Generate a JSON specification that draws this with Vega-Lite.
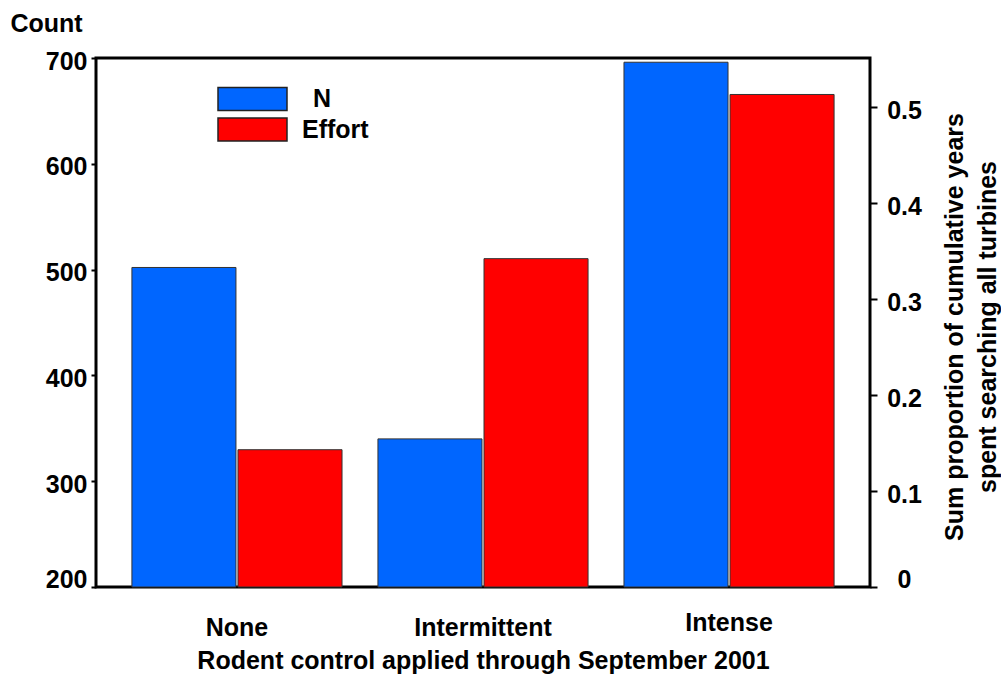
{
  "$schema": "https://vega.github.io/schema/vega-lite/v6.json",
  "width": 774,
  "height": 529,
  "autosize": {"type": "none"},
  "padding": {"left": 96, "top": 58, "right": 131, "bottom": 98},
  "background": "white",
  "config": {
    "view": {"stroke": "black", "strokeWidth": 3},
    "font": "Liberation Sans",
    "axis": {
      "labelFont": "Liberation Sans",
      "labelFontWeight": "bold",
      "labelFontSize": 25,
      "labelColor": "black",
      "titleFont": "Liberation Sans",
      "titleFontWeight": "bold",
      "titleFontSize": 25,
      "titleColor": "black",
      "grid": false,
      "domain": false,
      "tickColor": "black"
    }
  },
  "data": {
    "values": [
      {"control": "None", "series": "N", "value": 502},
      {"control": "None", "series": "Effort", "value": 0.143},
      {"control": "Intermittent", "series": "N", "value": 340},
      {"control": "Intermittent", "series": "Effort", "value": 0.342},
      {"control": "Intense", "series": "N", "value": 696},
      {"control": "Intense", "series": "Effort", "value": 0.513}
    ]
  },
  "encoding": {
    "x": {
      "field": "control",
      "type": "nominal",
      "sort": ["None", "Intermittent", "Intense"],
      "scale": {"paddingInner": 0.146, "paddingOuter": 0.146},
      "axis": {
        "title": "Rodent control applied through September 2001",
        "ticks": false,
        "tickSize": 0,
        "labelAngle": 0,
        "labelBaseline": "top",
        "labelPadding": {"condition": {"test": "datum.value == 'Intense'", "value": 23}, "value": 28},
        "titleY": 81,
        "titleBaseline": "alphabetic"
      }
    },
    "xOffset": {
      "field": "series",
      "type": "nominal",
      "scale": {"domain": ["N", "Effort"], "paddingInner": 0.019, "paddingOuter": 0}
    },
    "color": {
      "field": "series",
      "type": "nominal",
      "scale": {"domain": ["N", "Effort"], "range": ["#0066ff", "#ff0000"]},
      "legend": {
        "orient": "none",
        "legendX": 121,
        "legendY": 27,
        "title": null,
        "padding": 0,
        "symbolType": "M-1,-0.3333L1,-0.3333L1,0.3333L-1,0.3333Z",
        "symbolSize": 4761,
        "symbolStrokeColor": "#222222",
        "symbolStrokeWidth": 1.5,
        "symbolOpacity": 1,
        "labelFont": "Liberation Sans",
        "labelFontSize": 25,
        "labelFontWeight": "bold",
        "labelColor": "black",
        "labelOffset": 14,
        "clipHeight": 28,
        "rowPadding": 2.5,
        "encode": {
          "labels": {
            "update": {
              "dx": {"signal": "datum.value == 'N' ? 11 : 0"}
            }
          }
        }
      }
    }
  },
  "layer": [
    {
      "transform": [{"filter": "datum.series == 'N'"}],
      "mark": {"type": "bar", "stroke": "#333333", "strokeWidth": 1},
      "encoding": {
        "y": {
          "field": "value",
          "type": "quantitative",
          "scale": {"domain": [200, 700], "zero": false},
          "axis": {
            "values": [200, 300, 400, 500, 600, 700],
            "title": "Count",
            "titleAngle": 0,
            "titleX": -86,
            "titleY": -27,
            "titleAlign": "left",
            "titleBaseline": "alphabetic",
            "tickSize": 5,
            "tickWidth": 2,
            "labelPadding": 4,
            "labelBaseline": {"condition": {"test": "datum.value == 200", "value": "alphabetic"}, "value": "middle"},
            "labelOffset": {"condition": {"test": "datum.value == 200", "value": 0}, "value": 3}
          }
        },
        "y2": {"datum": 200}
      }
    },
    {
      "transform": [{"filter": "datum.series == 'Effort'"}],
      "mark": {"type": "bar", "stroke": "#333333", "strokeWidth": 1},
      "encoding": {
        "y": {
          "field": "value",
          "type": "quantitative",
          "scale": {"domain": [0, 0.551], "zero": true},
          "axis": {
            "orient": "right",
            "values": [0, 0.1, 0.2, 0.3, 0.4, 0.5],
            "labelExpr": "datum.value == 0 ? '0' : format(datum.value, '.1f')",
            "labelAlign": "center",
            "labelPadding": 27,
            "tickSize": 7,
            "tickWidth": 2,
            "labelBaseline": {"condition": {"test": "datum.value == 0", "value": "alphabetic"}, "value": "middle"},
            "labelOffset": {"condition": {"test": "datum.value == 0", "value": 0}, "value": 3.5},
            "title": ["Sum proportion of cumulative years", "spent searching all turbines"],
            "titleAngle": 270,
            "titleX": 92,
            "titleY": 268.5,
            "titleAlign": "center",
            "titleBaseline": "alphabetic",
            "titleLineHeight": 33
          }
        }
      }
    }
  ],
  "resolve": {"scale": {"y": "independent"}}
}
